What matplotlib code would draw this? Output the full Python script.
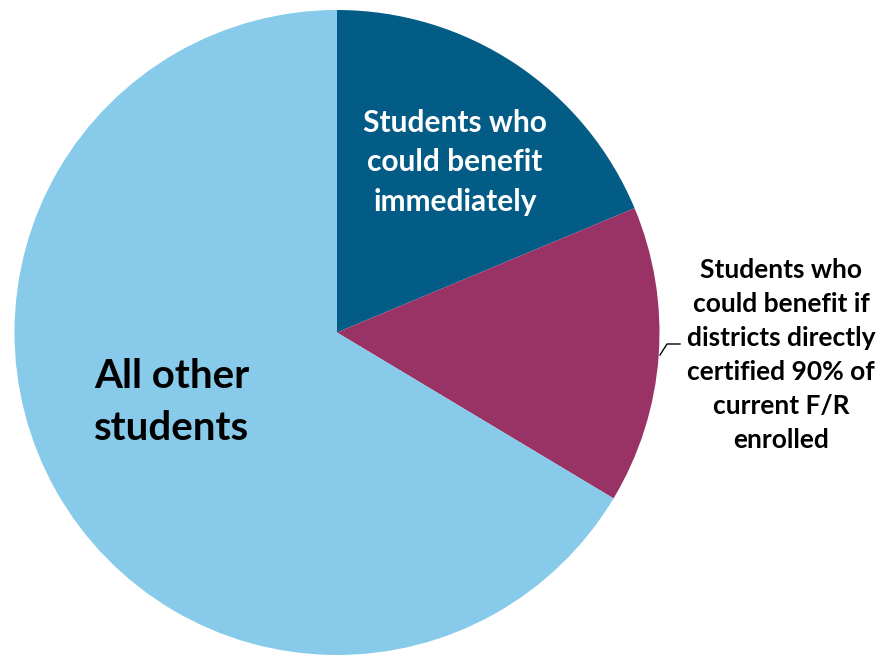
import matplotlib
matplotlib.use("Agg")
import matplotlib.pyplot as plt

# slice shares, clockwise from 12 o'clock
labels = ["Students who\ncould benefit\nimmediately",
          "Students who\ncould benefit if\ndistricts directly\ncertified 90% of\ncurrent F/R\nenrolled",
          "All other\nstudents"]
shares = [18.7, 14.9, 66.4]
colors = ["#035C86", "#993366", "#87CAEA"]

plt.rcParams['font.family'] = ['Lato', 'DejaVu Sans']

fig = plt.figure(figsize=(8.84, 6.56), dpi=100)
ax = fig.add_axes([0, 0, 1, 1])

cx, cy, r = 337, 323.5, 322.5
ax.pie(shares, colors=colors, startangle=90, counterclock=False,
       center=(cx, cy), radius=r, frame=True,
       wedgeprops=dict(linewidth=0))
ax.set_xlim(0, 884)
ax.set_ylim(0, 656)
ax.set_aspect('equal')
ax.axis('off')

ax.text(455, 656 - 162, labels[0], color='white', fontsize=21.5, fontweight='bold',
        ha='center', va='center', linespacing=1.5)
ax.text(781, 656 - 355, labels[1], color='black', fontsize=19, fontweight='bold',
        ha='center', va='center', linespacing=1.49)
ax.text(172, 656 - 402, labels[2], color='black', fontsize=29, fontweight='bold',
        ha='center', va='center', linespacing=1.5)

# leader line to the second slice
ax.plot([660, 667, 680], [656 - 355, 656 - 344, 656 - 344], color='black', lw=1)

fig.savefig("out.png", dpi=100)
